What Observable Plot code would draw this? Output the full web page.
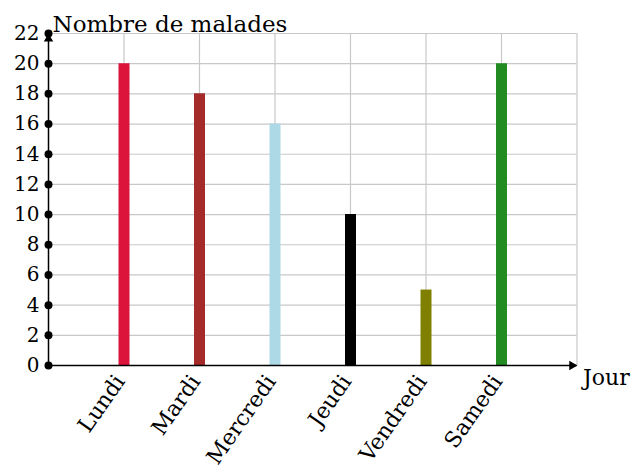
<!DOCTYPE html>
<html><head><meta charset="utf-8">
<script src="https://cdn.jsdelivr.net/npm/d3@7"></script>
<script src="https://cdn.jsdelivr.net/npm/@observablehq/plot@0.6"></script>
<style>body{margin:0;background:#fff}</style>
</head><body><div id="chart"></div>
<script>
const days = ["Lundi", "Mardi", "Mercredi", "Jeudi", "Vendredi", "Samedi"];
const malades = [20, 18, 16, 10, 5, 20];
const colors = ["#DC143C", "#A52A2A", "#ADD8E6", "#000000", "#808000", "#228B22"];
const yTicks = d3.range(0, 23, 2);
const xGrid = [1, 2, 3, 4, 5, 6, 7];
const yLabel = "Nombre de malades";
const xLabel = "Jour";

const data = days.map((d, i) => ({pos: i + 1, day: d, value: malades[i], color: colors[i]}));

const chart = Plot.plot({
  width: 636, height: 473,
  marginLeft: 48, marginRight: 59.5, marginTop: 33, marginBottom: 108,
  style: {fontFamily: "DejaVu Serif", fontSize: "20px", color: "#000", background: "#fff"},
  x: {domain: [0, 7], axis: null},
  y: {domain: [0, 22], axis: null},
  marks: [
    Plot.gridX(xGrid, {stroke: "#c8c8c8", strokeOpacity: 1, strokeWidth: 1.2}),
    Plot.gridY(yTicks.filter(d => d > 0), {stroke: "#c8c8c8", strokeOpacity: 1, strokeWidth: 1.2}),
    Plot.ruleX(data, {x: "pos", y1: 0, y2: "value", stroke: "color", strokeWidth: 11}),
    Plot.ruleY([0], {x1: 0, x2: 7, stroke: "#000", strokeWidth: 1.5}),
    Plot.ruleX([0], {y1: 0, y2: 22, stroke: "#000", strokeWidth: 1.5}),
    Plot.dot([7], {x: d => d, y: 0, symbol: "triangle", rotate: 90, r: 3.5, fill: "#000", stroke: null, dx: -5}),
    Plot.dot([22], {x: 0, y: d => d, symbol: "triangle", r: 3.5, fill: "#000", stroke: null, dy: 5.4}),
    Plot.dot(yTicks, {x: 0, y: d => d, r: 4, fill: "#000"}),
    Plot.axisY(yTicks, {anchor: "left", tickSize: 0, tickPadding: 9, fontSize: 20, label: null}),
    Plot.axisX(data.map(d => d.pos), {anchor: "bottom", tickSize: 0, tickPadding: 12, tickRotate: -55, tickFormat: p => days[p - 1], fontSize: 22, dx: -4, label: null}),
    Plot.text([yLabel], {x: 0, y: 22, text: d => d, textAnchor: "start", lineAnchor: "bottom", dx: 4, dy: -2, fontSize: 23}),
    Plot.text([xLabel], {x: 7, y: 0, text: d => d, textAnchor: "start", lineAnchor: "top", dx: 6, dy: 4, fontSize: 22})
  ]
});
document.getElementById("chart").appendChild(chart);
</script>
</body></html>
